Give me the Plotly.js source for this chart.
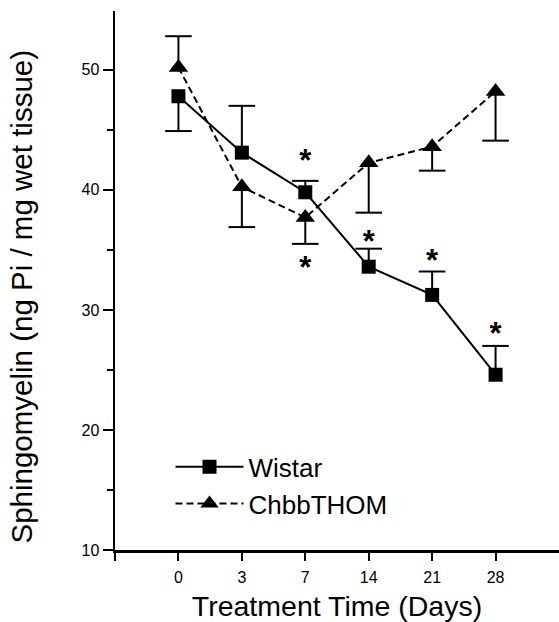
<!DOCTYPE html>
<html>
<head>
<meta charset="utf-8">
<script src="https://cdn.plot.ly/plotly-3.0.1.min.js"></script>
<style>html,body{margin:0;padding:0;background:#fff;}#chart{width:559px;height:622px;}</style>
</head>
<body>
<div id="chart"></div>
<script>
// ---- data ----
const days = ['0', '3', '7', '14', '21', '28'];
const wistar = [47.8, 43.1, 39.8, 33.6, 31.25, 24.6];
const wistarUp = [0, 3.9, 0.95, 1.5, 1.95, 2.4];
const wistarDown = [2.9, 0, 0, 0, 0, 0];
const chbb = [50.2, 40.25, 37.7, 42.25, 43.6, 48.2];
const chbbUp = [2.6, 0, 0, 0, 0, 0];
const chbbDown = [0, 3.35, 2.2, 4.15, 2.0, 4.1];
// significance markers (day index, value position)
const starDay = [2, 2, 3, 4, 5];
const starY = [42.2, 33.3, 35.5, 33.9, 27.8];

const FONT = 'Liberation Sans, Arial, Helvetica, sans-serif';
const xIdx = days.map((d, i) => i);

function errTraces(vals, up, down) {
  const lx = [], ly = [], cx = [], cy = [];
  vals.forEach((v, i) => {
    if (up[i] > 0) { lx.push(i, i, null); ly.push(v, v + up[i], null); cx.push(i); cy.push(v + up[i]); }
    if (down[i] > 0) { lx.push(i, i, null); ly.push(v, v - down[i], null); cx.push(i); cy.push(v - down[i]); }
  });
  return [
    {x: lx, y: ly, mode: 'lines', line: {color: '#000', width: 2}, showlegend: false, hoverinfo: 'skip', connectgaps: false},
    {x: cx, y: cy, mode: 'markers', marker: {symbol: 'line-ew', size: 19, line: {color: '#000', width: 2}}, showlegend: false, hoverinfo: 'skip'}
  ];
}

const data = [
  ...errTraces(wistar, wistarUp, wistarDown),
  ...errTraces(chbb, chbbUp, chbbDown),
  {x: xIdx, y: chbb, name: 'ChbbTHOM', mode: 'lines+markers',
   line: {color: '#000', width: 2, dash: '7px,4px'},
   marker: {symbol: 'triangle-up', size: 17, color: '#000'}},
  {x: xIdx, y: wistar, name: 'Wistar', mode: 'lines+markers',
   line: {color: '#000', width: 2},
   marker: {symbol: 'square', size: 14, color: '#000'}},
  {x: starDay, y: starY, mode: 'text', text: starDay.map(() => '*'),
   textposition: 'middle center', showlegend: false, hoverinfo: 'skip',
   textfont: {family: FONT, size: 31, color: '#000', weight: 'bold'}}
];

const layout = {
  width: 559, height: 622,
  margin: {l: 115, r: 0, t: 11, b: 72},
  paper_bgcolor: '#fff', plot_bgcolor: '#fff',
  font: {family: FONT, color: '#000'},
  showlegend: true,
  legend: {x: 0.125, y: 0.198, xanchor: 'left', yanchor: 'top', traceorder: 'reversed',
           font: {family: FONT, size: 26, color: '#000'}, bgcolor: 'rgba(0,0,0,0)',
           itemwidth: 68, tracegroupgap: 0},
  annotations: [{
    text: 'Sphingomyelin (ng Pi / mg wet tissue)', textangle: -90,
    xref: 'paper', yref: 'paper', x: -0.2095, y: 0.4703,
    xanchor: 'center', yanchor: 'middle', showarrow: false,
    font: {family: FONT, size: 29.5, color: '#000'}
  }],
  xaxis: {
    range: [-1, 6], tickmode: 'array', tickvals: [-1, ...xIdx], ticktext: ['', ...days],
    ticks: 'outside', ticklen: 8, tickwidth: 2, tickcolor: '#000',
    showline: true, linewidth: 2.5, linecolor: '#000', showgrid: false, zeroline: false,
    tickfont: {family: FONT, size: 16, color: '#000'}, ticklabelstandoff: 3,
    title: {text: 'Treatment Time (Days)', font: {family: FONT, size: 28.5, color: '#000'}, standoff: 16},
    automargin: false
  },
  yaxis: {
    range: [10, 54.9], tick0: 10, dtick: 10,
    ticks: 'outside', ticklen: 10, tickwidth: 2, tickcolor: '#000',
    minor: {dtick: 5, tick0: 10, ticks: 'outside', ticklen: 6, tickwidth: 2, tickcolor: '#000', showgrid: false},
    showline: true, linewidth: 2.5, linecolor: '#000', showgrid: false, zeroline: false,
    tickfont: {family: FONT, size: 16, color: '#000'},
    automargin: false
  }
};

Plotly.newPlot('chart', data, layout, {displayModeBar: false, staticPlot: true});
</script>
</body>
</html>
